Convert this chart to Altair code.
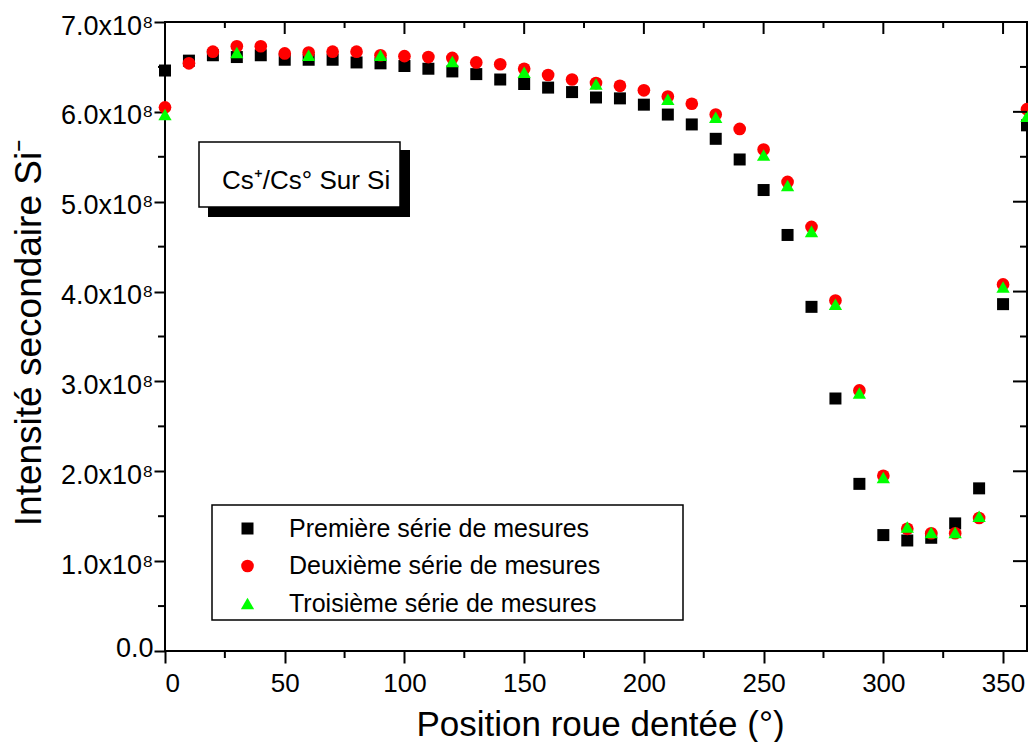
import altair as alt
import pandas as pd

FONT = "Liberation Sans"

# ---- data (intensities read in units of 1e8) ----
names = ["Première série de mesures", "Deuxième série de mesures", "Troisième série de mesures"]
colors = ["#000000", "#ff0000", "#00ff00"]
shapes = ["square", "circle", "triangle-up"]
sizes = [144, 177, 280]

pos12 = [0, 10, 20, 30, 40, 50, 60, 70, 80, 90, 100, 110, 120, 130, 140, 150, 160, 170, 180,
         190, 200, 210, 220, 230, 240, 250, 260, 270, 280, 290, 300, 310, 320, 330, 340, 350, 360]
serie1 = [6.46, 6.57, 6.63, 6.61, 6.63, 6.58, 6.58, 6.58, 6.55, 6.54, 6.51, 6.48, 6.45, 6.42,
          6.36, 6.31, 6.27, 6.22, 6.16, 6.15, 6.08, 5.97, 5.86, 5.70, 5.47, 5.13, 4.63, 3.83,
          2.81, 1.86, 1.29, 1.23, 1.26, 1.42, 1.81, 3.86, 5.85]
serie2 = [6.05, 6.54, 6.67, 6.73, 6.73, 6.65, 6.66, 6.67, 6.67, 6.63, 6.62, 6.61, 6.60, 6.55,
          6.53, 6.48, 6.41, 6.36, 6.32, 6.29, 6.24, 6.17, 6.09, 5.97, 5.81, 5.58, 5.22, 4.72,
          3.90, 2.90, 1.95, 1.36, 1.31, 1.31, 1.48, 4.08, 6.03]
pos3 = [0, 30, 60, 90, 120, 150, 180, 210, 230, 250, 260, 270, 280, 290, 300, 310, 320, 330,
        340, 350, 360]
serie3 = [5.97, 6.66, 6.63, 6.63, 6.56, 6.44, 6.31, 6.14, 5.94, 5.52, 5.18, 4.67, 3.86, 2.87,
          1.93, 1.38, 1.32, 1.32, 1.50, 4.05, 5.95]

x_major = [0, 50, 100, 150, 200, 250, 300, 350]
x_minor = [25, 75, 125, 175, 225, 275, 325]
y_major = [0, 1e8, 2e8, 3e8, 4e8, 5e8, 6e8, 7e8]
y_minor = [0.5e8, 1.5e8, 2.5e8, 3.5e8, 4.5e8, 5.5e8, 6.5e8]

inset_text = "Cs⁺/Cs° Sur Si"
x_title = "Position roue dentée (°)"
y_title = "Intensité secondaire Si⁻"

rows = []
for name, xs_, vals in [(names[0], pos12, serie1), (names[1], pos12, serie2), (names[2], pos3, serie3)]:
    for p, v in zip(xs_, vals):
        rows.append({"serie": name, "position": p, "intensite": v * 1e8})
df = pd.DataFrame(rows)

W, H = 862, 629
xsc = alt.Scale(domain=[0, 360], nice=False, zero=False)
ysc = alt.Scale(domain=[0, 7e8], nice=False)

x_axis = alt.Axis(
    values=x_major, title=x_title, grid=False, domain=False,
    tickSize=12, tickWidth=2, tickColor="black",
    labelFont=FONT, labelFontSize=26, labelColor="black", labelPadding=7,
    titleFont=FONT, titleFontSize=35, titleFontWeight="normal", titleColor="black",
    titleX=435, titleY=84, titleBaseline="alphabetic", titleAlign="center")
y_axis = alt.Axis(
    values=y_major, title=y_title, grid=False, domain=False,
    labelExpr="datum.value == 0 ? '0.0\u2002' : format(datum.value / 100000000, '.1f') + 'x10⁸'",
    tickSize=11, tickWidth=2, tickColor="black",
    labelFont=FONT, labelFontSize=27, labelColor="black", labelPadding=1,
    labelOffset={"condition": {"test": "datum.value == 0", "value": -3}, "value": 4},
    titleFont=FONT, titleFontSize=37, titleFontWeight="normal", titleColor="black",
    titleX=-136, titleY=310, titleBaseline="middle", titleAlign="center", titleAngle=270)

legend = alt.Legend(title=None, orient="none", legendX=70, legendY=494,
                    labelFont=FONT, labelFontSize=25, labelColor="black",
                    labelOffset=29, rowPadding=11.5, symbolStrokeWidth=0,
                    padding=0, symbolOffset=0, labelLimit=600)

points = alt.Chart(df).mark_point(filled=True, opacity=1, strokeWidth=0).encode(
    x=alt.X("position:Q", scale=xsc, axis=x_axis),
    y=alt.Y("intensite:Q", scale=ysc, axis=y_axis),
    color=alt.Color("serie:N", scale=alt.Scale(domain=names, range=colors), legend=legend),
    shape=alt.Shape("serie:N", scale=alt.Scale(domain=names, range=shapes), legend=legend),
    size=alt.Size("serie:N", scale=alt.Scale(domain=names, range=sizes), legend=legend),
)

def vticks(values, y0, y1):
    return alt.Chart(pd.DataFrame({"position": values})).mark_rule(color="black", strokeWidth=2).encode(
        x=alt.X("position:Q", scale=xsc, axis=x_axis), y=alt.value(y0), y2=alt.value(y1))

def hticks(values, x0, x1):
    return alt.Chart(pd.DataFrame({"intensite": values})).mark_rule(color="black", strokeWidth=2).encode(
        y=alt.Y("intensite:Q", scale=ysc, axis=y_axis), x=alt.value(x0), x2=alt.value(x1))

one = pd.DataFrame({"t": [inset_text]})

shadow = alt.Chart(one).mark_rect(color="black").encode(
    x=alt.value(43), x2=alt.value(245), y=alt.value(128), y2=alt.value(195))
box = alt.Chart(one).mark_rect(fill="white", stroke="black", strokeWidth=1.5).encode(
    x=alt.value(34), x2=alt.value(235), y=alt.value(120), y2=alt.value(185))
label = alt.Chart(one).mark_text(align="left", baseline="alphabetic", font=FONT,
                                 fontSize=26, color="black").encode(
    text="t:N", x=alt.value(57), y=alt.value(167))
legend_box = alt.Chart(one).mark_rect(fillOpacity=0, stroke="black", strokeWidth=1.5).encode(
    x=alt.value(47), x2=alt.value(518), y=alt.value(483), y2=alt.value(598))

chart = alt.layer(
    points,
    vticks(x_major, 0, 12), vticks(x_minor, 0, 6),
    vticks(x_minor, H, H + 7),
    hticks(y_minor, -7, 0),
    hticks(y_major, W - 14, W), hticks(y_minor, W - 7, W),
    shadow, box, label, legend_box,
).properties(
    width=W, height=H,
    padding={"left": 157, "top": 14, "right": 1, "bottom": 91},
    autosize=alt.AutoSizeParams(type="none"),
).configure_view(stroke="black", strokeWidth=2)

chart.save("out.html", embed_options={"renderer": "svg", "actions": False})
